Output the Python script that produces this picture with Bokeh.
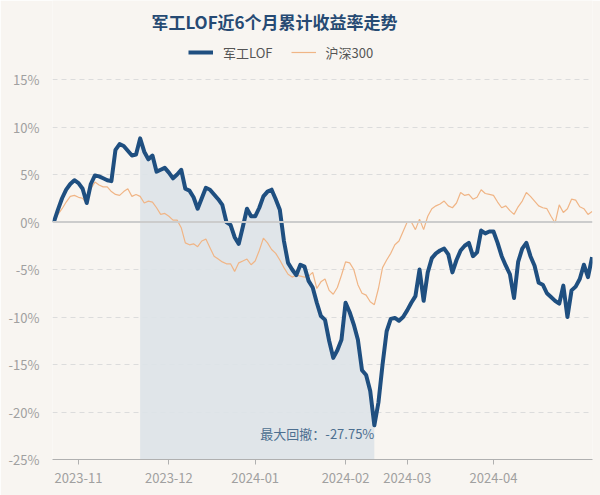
import pandas as pd
from bokeh.plotting import figure
from bokeh.models import Range1d, FixedTicker, Span, Label, Legend, LegendItem
from bokeh.embed import file_html
from bokeh.resources import INLINE

# ---------------- data ----------------
title_text = "军工LOF近6个月累计收益率走势"
series_names = ["军工LOF", "沪深300"]
drawdown_text = "最大回撤：-27.75%"

start_date = "2023-10-24"
end_date = "2024-05-10"
market_holidays = ["2024-01-01", "2024-02-09", "2024-02-12", "2024-02-13", "2024-02-14",
                   "2024-02-15", "2024-02-16", "2024-04-04", "2024-04-05",
                   "2024-05-01", "2024-05-02", "2024-05-03"]
tick_months = ["2023-11", "2023-12", "2024-01", "2024-02", "2024-03", "2024-04"]
y_ticks = [-25, -20, -15, -10, -5, 0, 5, 10, 15]

# cumulative return (%) of 军工LOF, one value per trading day
fund = [0.0, 1.3, 2.5, 3.4, 4.0, 4.4, 4.1, 3.5, 2.0, 4.0,
        4.9, 4.8, 4.6, 4.4, 4.3, 7.6, 8.2, 8.0, 7.5, 7.0,
        7.1, 8.8, 7.4, 6.6, 7.0, 5.3, 5.5, 5.7, 5.2, 4.6,
        5.0, 5.5, 3.5, 3.3, 2.6, 1.4, 2.5, 3.6, 3.4, 2.9,
        2.4, 1.8, 0.0, -0.3, -1.6, -2.3, -0.5, 1.4, 0.6, 0.6,
        1.5, 2.7, 3.2, 3.4, 2.4, 1.3, -2.0, -4.3, -5.0, -5.6,
        -4.5, -4.7, -6.2, -6.9, -8.5, -9.9, -10.3, -12.5, -14.3, -13.5,
        -12.4, -8.5, -9.5, -10.8, -12.4, -15.6, -16.1, -17.8, -21.4, -19.0,
        -15.0, -11.5, -10.2, -10.1, -10.4, -10.0, -9.3, -8.5, -7.8, -5.0,
        -8.3, -5.3, -3.8, -3.3, -3.0, -2.8, -3.4, -5.3, -4.0, -3.0,
        -2.5, -2.2, -3.6, -3.2, -0.9, -1.2, -1.0, -1.0, -2.2, -3.6,
        -4.6, -5.5, -8.0, -4.2, -2.8, -2.2, -3.6, -4.6, -6.4, -6.6,
        -7.5, -7.9, -8.3, -8.6, -6.7, -10.0, -7.2, -6.8, -6.0, -4.5,
        -5.8, -3.7]

# cumulative return (%) of 沪深300
hs300 = [0.0, 0.8, 1.4, 2.1, 2.7, 2.8, 2.6, 2.5, 1.9, 3.5,
         4.2, 3.9, 3.7, 3.7, 3.2, 2.9, 2.8, 3.2, 3.5, 2.7,
         2.9, 2.7, 2.0, 2.2, 2.1, 1.5, 0.8, 0.9, 0.6, 0.2,
         0.2, -0.6, -2.2, -2.4, -2.3, -2.6, -2.0, -1.8, -2.7, -3.6,
         -3.9, -4.2, -4.4, -4.4, -5.2, -4.3, -4.1, -3.9, -4.5, -4.1,
         -3.0, -1.7, -2.2, -2.9, -3.3, -4.0, -4.8, -5.5, -5.8, -5.6,
         -5.7, -5.8, -5.7, -5.3, -7.0, -6.3, -6.0, -7.2, -7.6, -6.9,
         -5.6, -4.2, -4.3, -5.0, -6.6, -7.5, -7.7, -8.4, -8.7, -7.0,
         -4.8, -4.0, -3.3, -2.4, -2.0, -1.0, 0.0, 0.0, -0.8, 0.3,
         -0.8, 0.6, 1.4, 1.7, 1.9, 2.2, 1.7, 1.5, 2.0, 3.1,
         2.8, 2.9, 2.4, 2.6, 3.4, 3.0, 2.9, 2.8, 2.1, 1.5,
         1.7, 1.2, 0.8, 1.6, 2.2, 3.1, 2.7, 2.2, 1.7, 1.5,
         1.4, 0.6, -0.1, 1.8, 1.0, 1.4, 2.4, 2.3, 1.6, 1.4,
         0.8, 1.1]

# ---------------- derived ----------------
dates = [d.strftime("%Y-%m-%d") for d in pd.bdate_range(start_date, end_date)
         if d.strftime("%Y-%m-%d") not in market_holidays]
n = min(len(dates), len(fund), len(hs300))
dates = dates[:n]
fund = fund[:n]
hs300 = hs300[:n]
x = list(range(n))

tick_idx = [next(i for i, d in enumerate(dates) if d.startswith(m)) for m in tick_months]

# maximum drawdown window
best_dd, peak_i, trough_i, run_peak = 0.0, 0, 0, 0
for i, v in enumerate(fund):
    if fund[i] > fund[run_peak]:
        run_peak = i
    dd = (1 + v / 100) / (1 + fund[run_peak] / 100) - 1
    if dd < best_dd:
        best_dd, peak_i, trough_i = dd, run_peak, i

# ---------------- figure ----------------
BG = "#f8f5f1"
BLUE = "#1f4f80"
ORANGE = "#f0b586"
FONT = "Noto Sans CJK SC"

FRAME_H = 459          # frame spans canvas y 0..459
Y_LO, Y_HI = -25, 15   # value span of the gridded part (canvas y 79..459)
px_per_unit = (FRAME_H - 79) / (Y_HI - Y_LO)
y_top = Y_HI + 79 / px_per_unit   # extra head room for title and legend

p = figure(width=600, height=495, output_backend="svg", toolbar_location=None,
           x_range=Range1d(-0.33, n - 1 + 0.1), y_range=Range1d(Y_LO, y_top),
           min_border_left=52, min_border_right=8, min_border_top=0, min_border_bottom=36)
p.background_fill_color = BG
p.border_fill_color = BG
p.outline_line_color = None

# shaded drawdown area
p.varea(x=x[peak_i:trough_i + 1], y1=Y_LO, y2=fund[peak_i:trough_i + 1],
        fill_color="#dde3e8", fill_alpha=0.9)

p.ygrid.ticker = FixedTicker(ticks=y_ticks)
p.ygrid.grid_line_color = "#dcdcdc"
p.ygrid.grid_line_dash = "5 4"
p.ygrid.grid_line_width = 1
p.xgrid.grid_line_color = None

zero = Span(location=0, dimension="width", line_color="#cccccc", line_width=2)
p.add_layout(zero)

r_hs = p.line(x, hs300, line_color=ORANGE, line_width=1.2)
r_fund = p.line(x, fund, line_color=BLUE, line_width=4, line_join="round")

# axes
p.yaxis.ticker = FixedTicker(ticks=y_ticks)
p.yaxis.major_label_overrides = {t: f"{t}%" for t in y_ticks}
p.yaxis.axis_line_color = None
p.yaxis.major_tick_line_color = None
p.yaxis.minor_tick_line_color = None
p.yaxis.major_label_text_color = "#a0a0a0"
p.yaxis.major_label_text_font = FONT
p.yaxis.major_label_text_font_size = "13px"
p.yaxis.major_label_standoff = 7

p.xaxis.ticker = FixedTicker(ticks=tick_idx)
p.xaxis.major_label_overrides = {i: m for i, m in zip(tick_idx, tick_months)}
p.xaxis.axis_line_color = "#b0b0b0"
p.xaxis.major_tick_line_color = "#b0b0b0"
p.xaxis.major_tick_out = 5
p.xaxis.major_tick_in = 0
p.xaxis.minor_tick_line_color = None
p.xaxis.major_label_text_color = "#a0a0a0"
p.xaxis.major_label_text_font = FONT
p.xaxis.major_label_text_font_size = "13px"
p.xaxis.major_label_standoff = 8

# drawdown annotation
p.add_layout(Label(x=trough_i, y=-22.3, text=drawdown_text, text_align="right",
                   text_baseline="middle", text_color="#4d6f90", text_font=FONT,
                   text_font_size="13px"))

# title (screen coordinates relative to the plot frame, origin bottom-left)
p.add_layout(Label(x=222, y=FRAME_H - 21, x_units="screen", y_units="screen", text=title_text,
                   text_align="center", text_baseline="middle", text_color="#264a73",
                   text_font=FONT, text_font_size="17px", text_font_style="bold"))

legend = Legend(items=[LegendItem(label=series_names[0], renderers=[r_fund]),
                       LegendItem(label=series_names[1], renderers=[r_hs])],
                orientation="horizontal", location=(188 - 52, FRAME_H - 62),
                padding=0, margin=0, spacing=18, glyph_width=25, glyph_height=20,
                label_standoff=10, background_fill_alpha=0, border_line_color=None,
                label_text_font=FONT, label_text_font_size="13px", label_text_color="#555555")
p.add_layout(legend)

open("out.html", "w").write(file_html(p, INLINE))
